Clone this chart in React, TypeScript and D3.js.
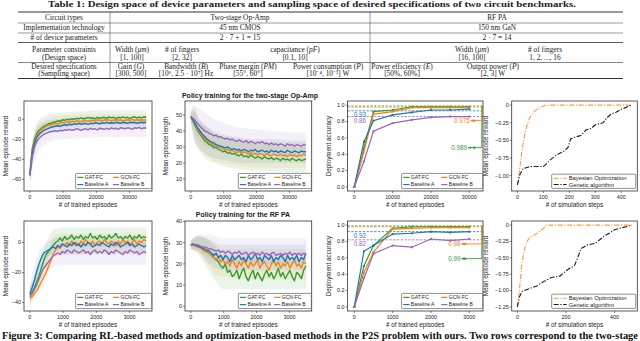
import React from 'react';
import * as d3 from 'd3';

const SANS = "'Liberation Sans', Arial, sans-serif";
const SERIF = "'Liberation Serif', 'Times New Roman', serif";
const INK = '#222';

// methods, in legend order
const methodNames = ['GAT-FC', 'GCN-FC', 'Baseline A', 'Baseline B'];
const methodColors = ['#2ca02c', '#ff7f0e', '#1f77b4', '#9467bd'];

// logged episodes of the training curves
const opampEpisodes = d3.range(0, 35001, 700);
const rfEpisodes = d3.range(0, 3501, 70);
const opampBandEpisodes = [0, 1000, 2500, 5000, 7500, 10000, 15000, 20000, 25000, 30000, 35000];
const rfBandEpisodes = [0, 250, 500, 750, 1000, 1500, 2000, 2500, 3000, 3500];

// two-stage Op-Amp : mean episode reward
const opampRewardGAT = [-56, -30, -20, -14, -11, -9, -7, -6, -4.5, -4, -3, -2.5, -1.5, -2, -0.5, -1, 0, -0.5, 0.5, 0, 1, 0.5, 1.5, 0.5, 1, 2, 1, 1.5, 0.5, 2, 1, 1.5, 2, 1, 2.5, 1.5, 2, 1, 2, 1.5, 2.5, 1.5, 2, 1, 2, 2.5, 1.5, 2, 1.5, 2.5, 2];
const opampRewardGCN = [-56, -32, -22, -16, -13, -10, -8.5, -7, -6, -5.5, -5, -4, -4.5, -3.5, -3, -3.5, -2.5, -3, -2, -2.5, -1.5, -2, -2.5, -1.5, -1, -2, -1.5, -1, -1.5, -0.5, -1, -1.5, -0.5, -1, -0.5, -1.5, -1, -0.5, -1, -0.5, -1.5, -1, -0.5, -1, 0, -1, -0.5, -1, -0.5, -1, -0.5];
const opampRewardA = [-56, -34, -24, -18, -15, -13, -11, -10, -9, -8, -7.5, -7, -6.5, -7, -6, -5.5, -6, -5, -5.5, -4.5, -5, -4, -5, -4.5, -4, -5, -4, -4.5, -3.5, -4, -4.5, -3.5, -4, -3, -4, -3.5, -4, -3, -3.5, -4, -3, -3.5, -4, -3, -3.5, -3, -4, -3.5, -3, -3.5, -3];
const opampRewardB = [-56, -38, -28, -22, -19, -17, -15, -14, -13, -12.5, -12, -11.5, -12, -11, -11.5, -10.5, -11, -10, -11, -10.5, -9.5, -10, -11, -10, -9.5, -10.5, -9, -10, -9.5, -10.5, -9, -9.5, -10, -9, -10, -8.5, -9.5, -9, -10, -8.5, -9, -9.5, -8.5, -9, -10, -8.5, -9, -8, -9.5, -8.5, -9];
const opampRewardLo = [
  [-64, -40, -18, -10, -7, -6, -5, -4, -4, -4, -4],
  [-64, -40, -20, -12, -9, -8, -7, -6, -6, -6, -6],
  [-64, -42, -22, -14, -12, -11, -10, -9, -9, -9, -9],
  [-66, -48, -32, -24, -21, -20, -19, -18, -18, -18, -18],
];
const opampRewardHi = [
  [-48, -16, -2, 4, 6, 7, 8, 9, 9, 9, 9],
  [-48, -18, -5, 1, 3, 4, 5, 5, 5, 5, 5],
  [-48, -20, -7, -2, 0, 1, 2, 2, 2, 2, 2],
  [-46, -24, -10, -4, -3, -2, -1, -1, -1, 0, 0],
];

// two-stage Op-Amp : mean episode length
const opampLengthGAT = [49, 46, 43, 40, 38, 36, 34, 33, 31.5, 31, 29.5, 30, 28.5, 28, 27, 27.5, 26, 26.5, 25.5, 26, 25, 24.5, 25.5, 24, 24.5, 23.5, 25, 24, 23, 24, 23.5, 22.5, 24, 23, 22.5, 23.5, 22, 23, 22.5, 21.5, 23, 22, 22.5, 21.5, 23, 22, 21.5, 22.5, 21.5, 22, 22.5];
const opampLengthGCN = [49, 46.5, 44, 41, 39, 37, 35.5, 34, 33, 32, 31, 31.5, 30, 29.5, 29, 28, 28.5, 27.5, 28, 27, 26.5, 27.5, 26, 27, 26.5, 25.5, 26.5, 25.5, 26, 25, 26, 25.5, 24.5, 26, 25, 24.5, 25.5, 25, 24.5, 25.5, 24.5, 25, 24, 25.5, 24.5, 25, 24, 25, 24.5, 25.5, 25];
const opampLengthA = [49, 47, 44.5, 42, 40, 38, 36.5, 35, 34, 33, 32.5, 31.5, 31, 30.5, 30, 29.5, 30, 29, 28.5, 29, 28, 28.5, 27.5, 28.5, 28, 27, 28, 27.5, 28.5, 27, 27.5, 28, 27, 27.5, 26.5, 28, 27, 27.5, 26.5, 27.5, 27, 26.5, 28, 27, 26.5, 27.5, 27, 26.5, 27.5, 27, 27];
const opampLengthB = [49, 48, 46.5, 44.5, 43, 41.5, 40, 39.5, 38.5, 38, 37, 37.5, 36, 36.5, 35.5, 35, 35.5, 34.5, 35, 34, 33.5, 34.5, 33.5, 33, 34, 32.5, 33.5, 33, 32, 33, 32.5, 33.5, 32, 32.5, 31.5, 32.5, 31.5, 32, 31, 32, 31.5, 30.5, 32, 31, 31.5, 30.5, 31.5, 31, 30.5, 31.5, 31];
const opampLengthLo = [
  [46, 34, 28, 22, 20, 18, 16, 15, 15, 14, 14],
  [46, 35, 29, 24, 21, 20, 18, 17, 17, 17, 17],
  [46, 36, 30, 25, 23, 22, 20, 20, 20, 20, 20],
  [46, 40, 34, 30, 28, 27, 26, 25, 25, 24, 24],
];
const opampLengthHi = [
  [52, 52, 46, 42, 38, 36, 33, 32, 31, 30, 30],
  [52, 53, 47, 42, 38, 37, 35, 34, 33, 33, 33],
  [52, 54, 48, 43, 40, 38, 36, 35, 35, 34, 34],
  [52, 56, 54, 50, 47, 45, 42, 41, 40, 39, 39],
];

// RF PA : mean episode reward
const rfRewardGAT = [-35, -33, -30, -26, -22, -17, -12, -8, -6, -4, -2, 0, 1, 3, 1, 4, 2, 3, 5, 2, 4, 3, 5, 2, 4, 3, 6, 3, 4, 2, 5, 3, 4, 2, 5, 3, 4, 6, 3, 4, 2, 4, 3, 5, 2, 4, 3, 5, 3, 4, 3];
const rfRewardGCN = [-37, -36, -34, -32, -29, -26, -23, -20, -16, -12, -8, -5, -3, -4, -1, -2, 0, -2, 1, -1, 0, -2, 1, -1, 2, 0, -1, 1, -2, 0, 1, -1, 2, 0, -1, 1, 0, -2, 1, -1, 2, 0, 1, -1, 0, 2, -1, 1, 0, 2, 1];
const rfRewardA = [-34, -30, -25, -19, -14, -10, -7, -6, -5, -4, -3, -4, -2, -3, -1, -2, -3, -1, -2, 0, -2, -1, -3, -1, -2, 0, -1, -3, -2, -1, -2, 0, -1, -2, -3, -1, -2, 0, -1, -3, -2, -1, 0, -2, -1, -3, -2, -1, -2, -3, -2];
const rfRewardB = [-36, -34, -31, -28, -24, -20, -17, -15, -13, -11, -9, -8, -7, -8, -6, -7, -5, -6, -7, -5, -6, -7, -6, -5, -7, -6, -8, -6, -5, -7, -6, -7, -5, -6, -8, -6, -7, -5, -6, -7, -8, -6, -7, -5, -6, -7, -6, -8, -7, -6, -7];
const rfRewardLo = [
  [-40, -30, -14, -4, -3, -3, -3, -3, -3, -3],
  [-42, -34, -24, -10, -8, -8, -7, -7, -7, -7],
  [-40, -22, -10, -8, -8, -8, -8, -8, -8, -8],
  [-42, -28, -20, -16, -15, -15, -15, -15, -15, -15],
];
const rfRewardHi = [
  [-30, -18, 0, 9, 10, 10, 10, 10, 10, 10],
  [-32, -24, -8, 5, 6, 6, 6, 6, 6, 6],
  [-28, -8, 0, 3, 4, 4, 4, 4, 4, 4],
  [-30, -16, -6, -1, 0, 0, 0, 0, 0, 0],
];

// RF PA : mean episode length
const rfLengthGAT = [29, 29, 28.5, 28, 28, 27, 26, 26, 25, 24, 23, 22, 21, 19, 18, 20, 16, 17, 14, 15, 17, 13, 16, 18, 14, 12, 15, 17, 13, 16, 14, 12, 15, 17, 14, 16, 13, 15, 18, 14, 16, 13, 15, 17, 14, 12, 16, 15, 13, 17, 19];
const rfLengthGCN = [29, 29, 28.5, 28, 27.5, 27, 26, 25.5, 25, 24, 23, 22, 23, 21, 22, 20, 21, 19, 22, 20, 18, 21, 19, 22, 20, 18, 21, 19, 20, 22, 18, 20, 21, 19, 17, 20, 22, 19, 21, 18, 20, 19, 21, 18, 20, 22, 19, 20, 18, 21, 20];
const rfLengthA = [29, 29, 29, 28.5, 28, 27.5, 27, 26.5, 26, 25, 24, 25, 23, 24, 22, 24, 23, 21, 24, 22, 23, 24, 22, 23, 21, 24, 22, 23, 25, 22, 23, 21, 24, 23, 22, 24, 21, 23, 22, 24, 23, 21, 24, 22, 23, 22, 24, 21, 23, 22, 25];
const rfLengthB = [29, 29.5, 29, 29, 28.5, 28, 28, 27.5, 27, 27, 26.5, 26, 26.5, 25.5, 26, 25, 26, 25.5, 24.5, 25.5, 25, 26, 24.5, 25, 25.5, 24, 25, 25.5, 24.5, 25, 24, 25.5, 24.5, 25, 24, 25, 25.5, 24, 24.5, 25, 24, 25, 24.5, 25.5, 24, 25, 24.5, 25, 24, 25, 24.5];
const rfLengthLo = [
  [27, 24, 18, 12, 8, 8, 8, 8, 8, 8],
  [27, 25, 20, 15, 14, 13, 13, 13, 13, 13],
  [27, 26, 21, 18, 17, 17, 17, 17, 17, 17],
  [27, 26, 23, 21, 20, 20, 20, 20, 20, 20],
];
const rfLengthHi = [
  [31, 33, 32, 28, 24, 23, 23, 23, 23, 23],
  [31, 33, 31, 29, 27, 27, 27, 27, 27, 27],
  [31, 33, 32, 30, 29, 29, 29, 29, 29, 29],
  [31, 34, 34, 33, 32, 32, 32, 32, 32, 32],
];

// deployment accuracy
const opampSteps = [0, 2500, 5000, 10000, 15000, 20000, 25000, 30000];
const opampAccGAT = [0, 0.47, 0.92, 0.94, 0.98, 0.98, 0.98, 0.98];
const opampAccGCN = [0, 0.43, 0.89, 0.92, 0.97, 0.97, 0.97, 0.97];
const opampAccA = [0, 0.55, 0.81, 0.88, 0.91, 0.94, 0.94, 0.95];
const opampAccB = [0, 0.31, 0.68, 0.78, 0.82, 0.85, 0.86, 0.86];
const opampFinal = [0.989, 0.975, 0.93, 0.86];
const opampFinalLabels = ['0.989', '0.975', '0.93', '0.86'];

const rfSteps = [0, 250, 500, 1000, 1500, 2000, 2500, 3000];
const rfAccGAT = [0, 0.5, 0.75, 0.96, 0.98, 0.98, 0.98, 0.98];
const rfAccGCN = [0, 0.42, 0.67, 0.95, 0.96, 0.97, 0.97, 0.97];
const rfAccA = [0, 0.68, 0.75, 0.89, 0.9, 0.92, 0.91, 0.92];
const rfAccB = [0, 0.35, 0.65, 0.75, 0.73, 0.83, 0.81, 0.83];
const rfFinal = [0.99, 0.98, 0.92, 0.82];
const rfFinalLabels = ['0.99', '0.98', '0.92', '0.82'];

// optimisation baselines: [simulation step, reward]
const optimizerNames = ['Bayesian Optimization', 'Genetic algorithm'];
const optimizerColors = ['#ff9a3c', '#1a1a1a'];
const opampBO: [number, number][] = [[0, -1.13], [4, -1.05], [8, -0.93], [14, -0.75], [20, -0.58], [28, -0.42], [36, -0.3], [45, -0.2], [55, -0.13], [68, -0.08], [80, -0.05], [95, -0.02], [112, 0], [440, 0]];
const opampGA: [number, number][] = [[0, -1.13], [10, -0.98], [22, -0.9], [50, -0.87], [100, -0.87], [110, -0.84], [125, -0.78], [150, -0.71], [180, -0.65], [195, -0.6], [205, -0.48], [225, -0.45], [245, -0.43], [265, -0.35], [285, -0.33], [300, -0.28], [330, -0.25], [345, -0.18], [360, -0.13], [380, -0.1], [400, -0.06], [420, -0.03], [440, 0]];
const rfBO: [number, number][] = [[0, -1.25], [4, -1.15], [8, -1.0], [13, -0.8], [18, -0.6], [25, -0.45], [32, -0.33], [40, -0.25], [48, -0.2], [60, -0.17], [75, -0.14], [90, -0.1], [105, -0.06], [120, 0], [470, 0]];
const rfGA: [number, number][] = [[0, -1.25], [8, -1.1], [20, -1.01], [50, -0.97], [80, -0.93], [110, -0.86], [140, -0.8], [175, -0.78], [200, -0.7], [215, -0.66], [235, -0.62], [250, -0.48], [262, -0.36], [290, -0.3], [320, -0.28], [340, -0.22], [365, -0.15], [380, -0.12], [400, -0.07], [430, -0.04], [455, -0.02], [470, 0]];

type Box = { x0: number; x1: number; y0: number; y1: number };
type Scale = d3.ScaleLinear<number, number>;

const minus = (s: string) => s.replace('-', '\u2212');

function Axes({ box, xs, ys, xTicks, yTicks, yFmt, xLabel, yLabel, yLabelX }: {
  box: Box; xs: Scale; ys: Scale; xTicks: number[]; yTicks: number[];
  yFmt: (v: number) => string; xLabel: string; yLabel: string; yLabelX: number;
}) {
  const midY = (box.y0 + box.y1) / 2;
  return (
    <g fontFamily={SANS} fill={INK}>
      <rect x={box.x0} y={box.y0} width={box.x1 - box.x0} height={box.y1 - box.y0}
        fill="none" stroke="#333" strokeWidth={0.8} />
      {xTicks.map(t => (
        <g key={'x' + t}>
          <line x1={xs(t)} x2={xs(t)} y1={box.y1} y2={box.y1 + 2} stroke="#333" strokeWidth={0.6} />
          <text x={xs(t)} y={box.y1 + 8} fontSize={5.4} textAnchor="middle">{t}</text>
        </g>
      ))}
      {yTicks.map(t => (
        <g key={'y' + t}>
          <line x1={box.x0 - 2} x2={box.x0} y1={ys(t)} y2={ys(t)} stroke="#333" strokeWidth={0.6} />
          <text x={box.x0 - 3} y={ys(t)} dy="0.35em" fontSize={5.4} textAnchor="end">{minus(yFmt(t))}</text>
        </g>
      ))}
      <text x={(box.x0 + box.x1) / 2} y={box.y1 + 16.3} fontSize={6.3} textAnchor="middle">{xLabel}</text>
      <text x={yLabelX} y={midY} dy="0.35em" fontSize={6.3} textAnchor="middle"
        transform={`rotate(-90,${yLabelX},${midY})`}>{yLabel}</text>
    </g>
  );
}

function MethodLegend({ box, w }: { box: Box; w: number }) {
  const x = box.x1 - w - 0.4;
  const y = box.y1 - 17.6;
  const colW = w * 0.47;
  return (
    <g fontFamily={SANS}>
      <rect x={x} y={y} width={w} height={15.2} fill="#fff" fillOpacity={0.85} stroke="#444" strokeWidth={0.6} rx={0.8} />
      {methodNames.map((name, k) => {
        const cx = x + 1.6 + (k % 2) * colW;
        const cy = y + 4 + Math.floor(k / 2) * 7.2;
        return (
          <g key={name}>
            <line x1={cx} x2={cx + 6.2} y1={cy} y2={cy} stroke={methodColors[k]} strokeWidth={1.2} />
            <text x={cx + 7.6} y={cy} dy="0.35em" fontSize={5} fill={INK}>{name}</text>
          </g>
        );
      })}
    </g>
  );
}

function TrainingPanel({ id, box, xDomain, yDomain, xTicks, yTicks, yLabel, yLabelX, episodes, series, bandX, lo, hi, legendW }: {
  id: string; box: Box; xDomain: number[]; yDomain: number[]; xTicks: number[]; yTicks: number[];
  yLabel: string; yLabelX: number; episodes: number[]; series: number[][]; bandX: number[];
  lo: number[][]; hi: number[][]; legendW: number;
}) {
  const xs = d3.scaleLinear().domain(xDomain).range([box.x0, box.x1]);
  const ys = d3.scaleLinear().domain(yDomain).range([box.y1, box.y0]);
  const line = d3.line<number>().x((_, i) => xs(episodes[i])).y(d => ys(d));
  return (
    <g>
      <defs>
        <clipPath id={id}><rect x={box.x0} y={box.y0} width={box.x1 - box.x0} height={box.y1 - box.y0} /></clipPath>
      </defs>
      <g clipPath={`url(#${id})`}>
        {lo.map((l, k) => {
          const area = d3.area<number>()
            .x((_, i) => xs(bandX[i]))
            .y0(d => ys(d))
            .y1((_, i) => ys(hi[k][i]))
            .curve(d3.curveMonotoneX);
          return <path key={'b' + k} d={area(l) || ''} fill={methodColors[k]} opacity={0.1} />;
        })}
        {series.map((s, k) => (
          <path key={'l' + k} d={line(s) || ''} fill="none" stroke={methodColors[k]}
            strokeWidth={1.4} strokeLinejoin="round" />
        ))}
      </g>
      <Axes box={box} xs={xs} ys={ys} xTicks={xTicks} yTicks={yTicks} yFmt={v => String(v)}
        xLabel="# of trained episodes" yLabel={yLabel} yLabelX={yLabelX} />
      <MethodLegend box={box} w={legendW} />
    </g>
  );
}

function AccuracyPanel({ box, xDomain, xTicks, steps, series, finals, finalLabels, textEnd, textV, dotX }: {
  box: Box; xDomain: number[]; xTicks: number[]; steps: number[]; series: number[][];
  finals: number[]; finalLabels: string[]; textEnd: number[]; textV: number[]; dotX: number;
}) {
  const xs = d3.scaleLinear().domain(xDomain).range([box.x0, box.x1]);
  const ys = d3.scaleLinear().domain([-0.05, 1.05]).range([box.y1, box.y0]);
  const line = d3.line<number>().x((_, i) => xs(steps[i])).y(d => ys(d));
  const xv = box.x1 - 1.2;
  return (
    <g>
      {finals.map((v, k) => (
        <line key={'r' + k} x1={box.x0} x2={box.x1} y1={ys(v)} y2={ys(v)} stroke={methodColors[k]}
          strokeWidth={0.8} strokeDasharray="2.4,1.4" />
      ))}
      {[2, 3].map(k => (
        <text key={'fl' + k} x={xs(0) - 0.5} y={ys(finals[k]) + 6} fontSize={6.3} fontFamily={SANS}
          fill={methodColors[k]}>{finalLabels[k]}</text>
      ))}
      {series.map((s, k) => (
        <g key={'s' + k}>
          <path d={line(s) || ''} fill="none" stroke={methodColors[k]} strokeWidth={1.2} />
          {s.map((v, i) => (
            <rect key={i} x={xs(steps[i]) - 1} y={ys(v) - 1} width={2} height={2} fill={methodColors[k]} />
          ))}
        </g>
      ))}
      {[0, 1].map(k => {
        const ty = ys(textV[k]);
        const tx = xs(textEnd[k]);
        return (
          <g key={'a' + k}>
            <text x={tx} y={ty} dy="0.35em" textAnchor="end" fontSize={6.3} fontFamily={SANS}
              fill={methodColors[k]}>{finalLabels[k]}</text>
            <path d={`M${tx + 1},${ty} L${xv},${ty} L${xv},${ys(finals[k])}`} fill="none"
              stroke={methodColors[k]} strokeWidth={0.9} />
            <path d={`M${tx + 0.8},${ty} l3,-1.3 l0,2.6 z`} fill={methodColors[k]} />
            <circle cx={xs(dotX)} cy={ty} r={1.2} fill={methodColors[k]} />
          </g>
        );
      })}
      <Axes box={box} xs={xs} ys={ys} xTicks={xTicks} yTicks={[0, 0.2, 0.4, 0.6, 0.8, 1.0]}
        yFmt={d3.format('.1f')} xLabel="# of trained episodes" yLabel="Deployment accuracy" yLabelX={329} />
      <MethodLegend box={box} w={81} />
    </g>
  );
}

function OptimizerPanel({ box, xDomain, yDomain, xTicks, yTicks, bo, ga }: {
  box: Box; xDomain: number[]; yDomain: number[]; xTicks: number[]; yTicks: number[];
  bo: [number, number][]; ga: [number, number][];
}) {
  const xs = d3.scaleLinear().domain(xDomain).range([box.x0, box.x1]);
  const ys = d3.scaleLinear().domain(yDomain).range([box.y1, box.y0]);
  const line = d3.line<[number, number]>().x(d => xs(d[0])).y(d => ys(d[1]));
  const lw = 84;
  const lx = box.x1 - lw - 1.6;
  const ly = box.y1 - 16.8;
  return (
    <g>
      {[bo, ga].map((s, k) => (
        <path key={k} d={line(s) || ''} fill="none" stroke={optimizerColors[k]} strokeWidth={1.1}
          strokeDasharray="5,1.6,1.2,1.6" />
      ))}
      <Axes box={box} xs={xs} ys={ys} xTicks={xTicks} yTicks={yTicks}
        yFmt={v => (v === 0 ? '0' : d3.format('.2f')(v))}
        xLabel="# of simulation steps" yLabel="Mean episode reward" yLabelX={486} />
      <g fontFamily={SANS}>
        <rect x={lx} y={ly} width={lw} height={14.2} fill="#fff" fillOpacity={0.85} stroke="#444" strokeWidth={0.6} rx={0.8} />
        {optimizerNames.map((name, k) => {
          const cy = ly + 4 + k * 6.3;
          return (
            <g key={name}>
              <line x1={lx + 2} x2={lx + 15} y1={cy} y2={cy} stroke={optimizerColors[k]} strokeWidth={1.1}
                strokeDasharray="5,1.6,1.2,1.6" />
              <text x={lx + 17} y={cy} dy="0.35em" fontSize={5.8} fill={INK}>{name}</text>
            </g>
          );
        })}
      </g>
    </g>
  );
}

function Cell({ x, y, children }: { x: number; y: number; children: React.ReactNode }) {
  return <text x={x} y={y} textAnchor="middle">{children}</text>;
}

const it = (s: string) => <tspan fontStyle="italic">{s}</tspan>;

function Table() {
  const rules: [number, number][] = [[12, 1], [23, 0.5], [33, 0.5], [42.5, 0.8], [62.5, 0.6], [78.5, 1]];
  return (
    <g fontFamily={SERIF} fontSize={7.4} fill={INK}>
      <text x={48} y={7.4} fontSize={9} fontWeight="bold" textLength={528} lengthAdjust="spacingAndGlyphs">
        Table 1: Design space of device parameters and sampling space of desired specifications of two circuit benchmarks.
      </text>
      {rules.map(([y, w]) => <line key={y} x1={18} x2={623} y1={y} y2={y} stroke="#333" strokeWidth={w} />)}
      {[110, 370].map(x => <line key={x} x1={x} x2={x} y1={12} y2={78.5} stroke="#333" strokeWidth={0.5} />)}
      <Cell x={64} y={19.5}>Circuit types</Cell>
      <Cell x={240} y={19.5}>Two-stage Op-Amp</Cell>
      <Cell x={497} y={19.5}>RF PA</Cell>
      <Cell x={64} y={30}>Implementation technology</Cell>
      <Cell x={240} y={30}>45 nm CMOS</Cell>
      <Cell x={497} y={30}>150 nm GaN</Cell>
      <Cell x={64} y={40}># of device parameters</Cell>
      <Cell x={240} y={40}>2 · 7 + 1 = 15</Cell>
      <Cell x={497} y={40}>2 · 7 = 14</Cell>
      <Cell x={64} y={52.3}>Parameter constraints</Cell>
      <Cell x={64} y={59.8}>(Design space)</Cell>
      <Cell x={132} y={52.3}>Width ({it('μm')})</Cell>
      <Cell x={132} y={59.8}>[1, 100]</Cell>
      <Cell x={182} y={52.3}># of fingers</Cell>
      <Cell x={182} y={59.8}>[2, 32]</Cell>
      <Cell x={295} y={52.3}>capacitance ({it('pF')})</Cell>
      <Cell x={295} y={59.8}>[0.1, 10]</Cell>
      <Cell x={472} y={52.3}>Width ({it('μm')})</Cell>
      <Cell x={472} y={59.8}>[16, 100]</Cell>
      <Cell x={545} y={52.3}># of fingers</Cell>
      <Cell x={545} y={59.8}>1, 2, ..., 16</Cell>
      <Cell x={64} y={68.5}>Desired specifications</Cell>
      <Cell x={64} y={76}>(Sampling space)</Cell>
      <Cell x={131} y={68.5}>Gain ({it('G')})</Cell>
      <Cell x={131} y={76}>[300, 500]</Cell>
      <Cell x={186} y={68.5}>Bandwidth ({it('B')})</Cell>
      <Cell x={186} y={76}>[10⁶, 2.5 · 10⁷] Hz</Cell>
      <Cell x={248} y={68.5}>Phase margin ({it('PM')})</Cell>
      <Cell x={248} y={76}>[55°, 60°]</Cell>
      <Cell x={328} y={68.5}>Power consumption ({it('P')})</Cell>
      <Cell x={328} y={76}>[10⁻⁴, 10⁻²] W</Cell>
      <Cell x={402} y={68.5}>Power efficiency ({it('E')})</Cell>
      <Cell x={402} y={76}>[50%, 60%]</Cell>
      <Cell x={493} y={68.5}>Output power ({it('P')})</Cell>
      <Cell x={493} y={76}>[2, 3] W</Cell>
    </g>
  );
}

export default function App() {
  const top = { y0: 101, y1: 191 };
  const bot = { y0: 221, y1: 311 };
  const col1 = { x0: 24, x1: 152 };
  const col2 = { x0: 185, x1: 311.7 };
  const col3 = { x0: 347.5, x1: 483 };
  const col4 = { x0: 511.7, x1: 637.3 };
  const opampTicks = [0, 10000, 20000, 30000];
  const rfTicks = [0, 1000, 2000, 3000];
  return (
    <div style={{ position: 'absolute', left: 0, top: 0 }}>
      <svg width={640} height={341} style={{ display: 'block', background: '#fff' }}>
        <Table />

        <text x={250} y={98.2} textAnchor="middle" fontFamily={SANS} fontWeight="bold" fontSize={7} fill={INK}>
          Policy training for the two-stage Op-Amp
        </text>
        <text x={243} y={216.6} textAnchor="middle" fontFamily={SANS} fontWeight="bold" fontSize={7} fill={INK}>
          Policy training for the RF PA
        </text>

        <TrainingPanel id="c1" box={{ ...col1, ...top }} xDomain={[-1750, 36750]} yDomain={[-71.7, 18.3]}
          xTicks={opampTicks} yTicks={[0, -20, -40, -60]} yLabel="Mean episode reward" yLabelX={6}
          episodes={opampEpisodes} series={[opampRewardGAT, opampRewardGCN, opampRewardA, opampRewardB]}
          bandX={opampBandEpisodes} lo={opampRewardLo} hi={opampRewardHi} legendW={76} />
        <TrainingPanel id="c2" box={{ ...col2, ...top }} xDomain={[-1750, 36750]} yDomain={[2.5, 58.75]}
          xTicks={opampTicks} yTicks={[10, 20, 30, 40, 50]} yLabel="Mean episode length" yLabelX={166}
          episodes={opampEpisodes} series={[opampLengthGAT, opampLengthGCN, opampLengthA, opampLengthB]}
          bandX={opampBandEpisodes} lo={opampLengthLo} hi={opampLengthHi} legendW={73} />
        <AccuracyPanel box={{ ...col3, ...top }} xDomain={[-1775, 33575]} xTicks={opampTicks} steps={opampSteps}
          series={[opampAccGAT, opampAccGCN, opampAccA, opampAccB]} finals={opampFinal}
          finalLabels={opampFinalLabels} textEnd={[29400, 30100]} textV={[0.48, 0.81]} dotX={31300} />
        <OptimizerPanel box={{ ...col4, ...top }} xDomain={[-22, 462]} yDomain={[-1.218, 0.058]}
          xTicks={[0, 100, 200, 300, 400]} yTicks={[0, -0.25, -0.5, -0.75, -1.0]} bo={opampBO} ga={opampGA} />

        <TrainingPanel id="c5" box={{ ...col1, ...bot }} xDomain={[-175, 3675]} yDomain={[-45.6, 14.3]}
          xTicks={rfTicks} yTicks={[0, -20, -40]} yLabel="Mean episode reward" yLabelX={6}
          episodes={rfEpisodes} series={[rfRewardGAT, rfRewardGCN, rfRewardA, rfRewardB]}
          bandX={rfBandEpisodes} lo={rfRewardLo} hi={rfRewardHi} legendW={76} />
        <TrainingPanel id="c6" box={{ ...col2, ...bot }} xDomain={[-175, 3675]} yDomain={[-2.2, 40.2]}
          xTicks={rfTicks} yTicks={[0, 10, 20, 30, 40]} yLabel="Mean episode length" yLabelX={166}
          episodes={rfEpisodes} series={[rfLengthGAT, rfLengthGCN, rfLengthA, rfLengthB]}
          bandX={rfBandEpisodes} lo={rfLengthLo} hi={rfLengthHi} legendW={73} />
        <AccuracyPanel box={{ ...col3, ...bot }} xDomain={[-177.5, 3357.5]} xTicks={rfTicks} steps={rfSteps}
          series={[rfAccGAT, rfAccGCN, rfAccA, rfAccB]} finals={rfFinal}
          finalLabels={rfFinalLabels} textEnd={[2770, 2770]} textV={[0.59, 0.77]} dotX={2890} />
        <OptimizerPanel box={{ ...col4, ...bot }} xDomain={[-23.5, 493.5]} yDomain={[-1.3125, 0.0625]}
          xTicks={[0, 200, 400]} yTicks={[0, -0.25, -0.5, -0.75, -1.0, -1.25]} bo={rfBO} ga={rfGA} />

        <text x={2} y={338.6} fontFamily={SERIF} fontWeight="bold" fontSize={10.5} fill="#111"
          textLength={636} lengthAdjust="spacingAndGlyphs">
          Figure 3: Comparing RL-based methods and optimization-based methods in the P2S problem with ours. Two rows correspond to the two-stage
        </text>
      </svg>
    </div>
  );
}
